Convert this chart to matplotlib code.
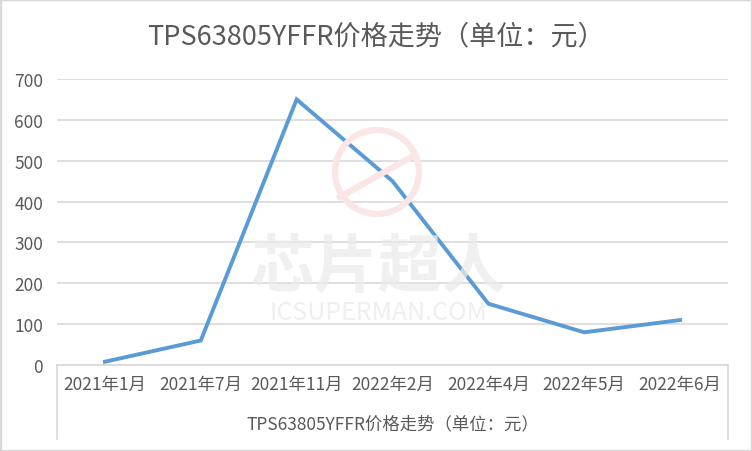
import matplotlib.pyplot as plt
from matplotlib.patches import Circle

plt.rcParams['font.family'] = ['Noto Sans CJK SC', 'DejaVu Sans']

# data
months = ['2021年1月', '2021年7月', '2021年11月', '2022年2月', '2022年4月', '2022年5月', '2022年6月']
prices = [8, 60, 650, 450, 150, 80, 110]
title = 'TPS63805YFFR价格走势（单位：元）'

W, H = 752, 452
fig = plt.figure(figsize=(W / 100, H / 100), dpi=100)
fig.patch.set_facecolor('white')

# plot area in pixels: x 57..728, y 80..366
ax = fig.add_axes([57 / W, 1 - 366 / H, (728 - 57) / W, (366 - 80) / H])
x = range(len(months))
ax.plot(x, prices, color='#5B9BD5', lw=2.8, solid_joinstyle='miter', zorder=3)

ax.set_xlim(-0.5, len(months) - 0.5)
ax.set_ylim(0, 700)
ax.set_yticks(range(0, 701, 100))
ax.yaxis.grid(True, color='#D9D9D9', lw=1.2)
ax.set_axisbelow(True)
for s in ['top', 'right', 'left']:
    ax.spines[s].set_visible(False)
ax.spines['bottom'].set_color('#D9D9D9')
ax.spines['bottom'].set_linewidth(1.2)
ax.tick_params(axis='both', length=0, labelsize=12.5, colors='#595959')
ax.tick_params(axis='y', pad=10)
ax.tick_params(axis='x', pad=7)
ax.set_xticks(list(x))
ax.set_xticklabels(months)

# multi-level category box
depth = (440 - 366) / (366 - 80)
for xa in (0, 1):
    ax.plot([xa, xa], [0, -depth], transform=ax.transAxes, color='#D9D9D9',
            lw=1.2, clip_on=False)
ax.text(0.5, -(424 - 366) / (366 - 80), title, transform=ax.transAxes,
        ha='center', va='center', fontsize=12.5, color='#595959')

fig.text(0.5, 1 - 37 / H, title, ha='center', va='center', fontsize=19.5, color='#595959')

# watermark (pixel positions -> inches)
fig.patches.append(Circle((3.77, (H - 173) / 100), 0.42, transform=fig.dpi_scale_trans,
                          fill=False, ec='#FBE6E6', lw=4.5, zorder=5))
fig.lines.append(plt.Line2D([3.40, 4.13], [(H - 198) / 100, (H - 157) / 100],
                            transform=fig.dpi_scale_trans, color='#FBE6E6', lw=4.5, zorder=5))
fig.text(378 / W, 1 - 268 / H, '芯片超人', ha='center', va='center', fontsize=46,
         fontweight='bold', style='italic', color='#EBEBEB', alpha=0.75, zorder=5)
fig.text(378 / W, 1 - 313 / H, 'ICSUPERMAN.COM', ha='center', va='center', fontsize=18,
         color='#EBEBEB', alpha=0.8, zorder=5)

# outer chart border
fig.patches.append(plt.Rectangle((0, 0), 1, 1, transform=fig.transFigure, fill=False,
                                 ec='#D9D9D9', lw=2.5))

fig.savefig('out.png', dpi=100)
